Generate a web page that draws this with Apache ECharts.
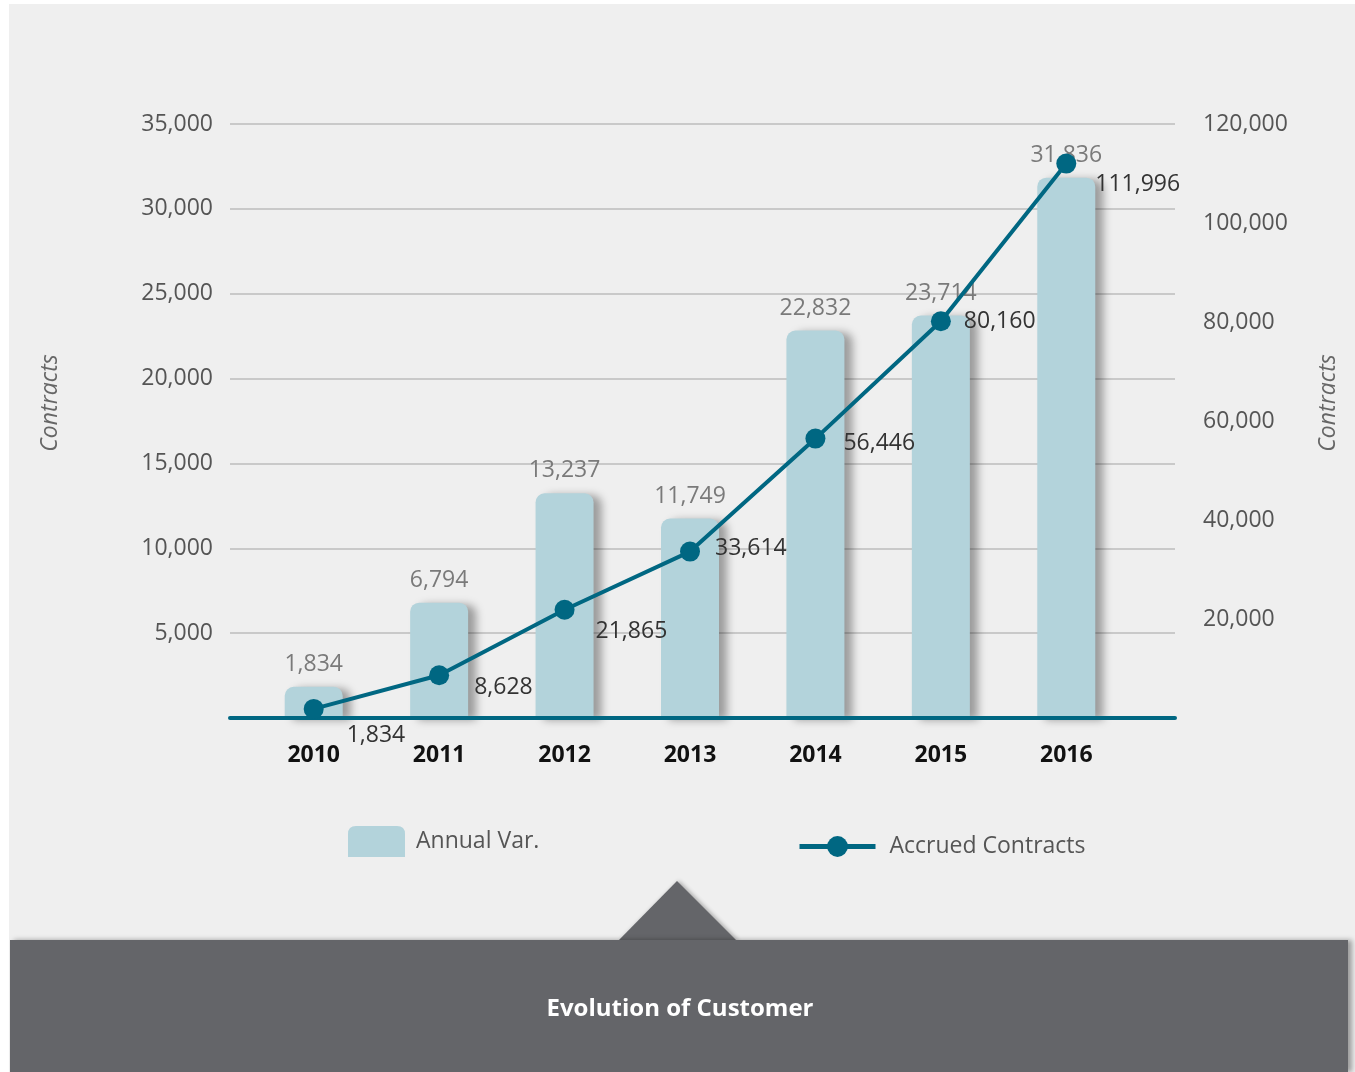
<!DOCTYPE html>
<html>
<head>
<meta charset="utf-8">
<script src="https://cdn.jsdelivr.net/npm/echarts@6/dist/echarts.min.js"></script>
<style>
  html, body { margin: 0; padding: 0; background: #ffffff; }
  #chart { width: 1355px; height: 1072px; }
</style>
</head>
<body>
<div id="chart"></div>
<script>
const years = ["2010", "2011", "2012", "2013", "2014", "2015", "2016"];
const annualVar = [1834, 6794, 13237, 11749, 22832, 23714, 31836];
const accrued = [1834, 8628, 21865, 33614, 56446, 80160, 111996];
const seriesNames = ["Annual Var.", "Accrued Contracts"];
const axisName = "Contracts";
const title = "Evolution of Customer";

// label nudges for the line values, [dx, dy]
const lineLabelOffsets = [[15, 27], [17, 12], [13, 22], [7, -3], [10, 5], [5, 0], [11, 21]];

const FONT = "Open Sans";
const BAR = "#b3d3db";
const LINE = "#006782";

const fmt = (v) => (v === 0 ? "" : v.toLocaleString("en-US"));

const chart = echarts.init(document.getElementById("chart"));

const option = {
  animation: false,
  textStyle: { fontFamily: FONT },
  graphic: [
    {
      type: "rect", z: -100,
      shape: { x: 9, y: 4, width: 1346, height: 1068 },
      style: { fill: "#efefef" },
    },
    {
      type: "polygon", z: 100,
      shape: { points: [[618, 941], [677, 881], [737, 941]] },
      style: { fill: "#646569", shadowColor: "rgba(0,0,0,0.3)", shadowBlur: 4, shadowOffsetX: 2 },
    },
    {
      type: "rect", z: 101,
      shape: { x: 10, y: 940, width: 1338, height: 132 },
      style: { fill: "#646569", shadowColor: "rgba(0,0,0,0.35)", shadowBlur: 5, shadowOffsetX: 4 },
    },
    {
      type: "text", z: 102,
      x: 680, y: 1009,
      style: {
        text: title, fill: "#ffffff", font: "bold 24px 'Open Sans'",
        align: "center", verticalAlign: "middle",
      },
    },
  ],
  legend: [
    {
      data: [{ name: seriesNames[0], icon: "path://M0,8 Q0,0 8,0 L49,0 Q57,0 57,8 L57,31 L0,31 Z" }],
      left: 343, top: 821,
      itemWidth: 57, itemHeight: 31, itemGap: 10,
      textStyle: { fontSize: 23, color: "#555555", fontFamily: FONT, padding: [0, 0, 0, 6] },
    },
    {
      data: [seriesNames[1]],
      left: 792, top: 830,
      itemWidth: 76, itemHeight: 26, itemGap: 12,
      lineStyle: { width: 5 },
      textStyle: { fontSize: 23, color: "#555555", fontFamily: FONT, padding: [0, 0, 0, 9] },
    },
  ],
  grid: [
    { left: 230, right: 180, top: 124, bottom: 354 },
    { left: 251, right: 226, top: 124, bottom: 354 },
  ],
  xAxis: [
    {
      gridIndex: 0, type: "value", min: 0, max: 1,
      axisLine: { show: true, lineStyle: { color: LINE, width: 4 } },
      axisTick: { show: false }, axisLabel: { show: false }, splitLine: { show: false },
      z: 5,
    },
    {
      gridIndex: 1, type: "category", data: years,
      axisLine: { show: false }, axisTick: { show: false },
      axisLabel: { margin: 26, fontSize: 23, fontWeight: "bold", color: "#111111", fontFamily: FONT },
    },
  ],
  yAxis: [
    {
      gridIndex: 0, type: "value", min: 0, max: 35000, interval: 5000, position: "left",
      name: axisName, nameLocation: "middle", nameRotate: 90, nameGap: 168,
      nameTextStyle: { fontSize: 23, fontStyle: "italic", color: "#666666", fontFamily: FONT, padding: [0, 0, 0, 36] },
      axisLine: { show: false }, axisTick: { show: false },
      axisLabel: { margin: 17, fontSize: 23, color: "#555555", formatter: fmt },
      splitLine: { lineStyle: { color: "#bdbdbd", width: 1.5 } },
    },
    {
      gridIndex: 0, type: "value", min: 0, max: 120000, interval: 20000, position: "right",
      name: axisName, nameLocation: "middle", nameRotate: 90, nameGap: 142,
      nameTextStyle: { fontSize: 23, fontStyle: "italic", color: "#666666", fontFamily: FONT, padding: [0, 0, 0, 36] },
      axisLine: { show: false }, axisTick: { show: false },
      axisLabel: { margin: 28, fontSize: 23, color: "#555555", formatter: fmt },
      splitLine: { show: false },
    },
    { gridIndex: 1, type: "value", min: 0, max: 35000, show: false, splitLine: { show: false } },
    { gridIndex: 1, type: "value", min: 0, max: 120000, show: false, splitLine: { show: false } },
  ],
  series: [
    {
      name: seriesNames[0], type: "bar",
      xAxisIndex: 1, yAxisIndex: 2,
      data: annualVar, barWidth: 58,
      itemStyle: {
        color: BAR, borderRadius: [9, 9, 0, 0],
        shadowColor: "rgba(0,0,0,0.35)", shadowBlur: 8, shadowOffsetX: 8, shadowOffsetY: 2,
      },
      label: {
        show: true, position: "top", distance: 11,
        fontSize: 23, color: "#7a7a7a", formatter: (p) => fmt(p.value),
      },
      z: 2,
    },
    {
      name: seriesNames[1], type: "line",
      xAxisIndex: 1, yAxisIndex: 3,
      data: accrued.map((v, i) => ({ value: v, label: { offset: lineLabelOffsets[i] } })),
      symbol: "circle", symbolSize: 20,
      lineStyle: { color: LINE, width: 4 },
      itemStyle: { color: LINE },
      label: {
        show: true, position: "right", distance: 8,
        fontSize: 23, color: "#333333", formatter: (p) => fmt(p.value),
      },
      z: 6,
    },
  ],
};

chart.setOption(option);
</script>
</body>
</html>
